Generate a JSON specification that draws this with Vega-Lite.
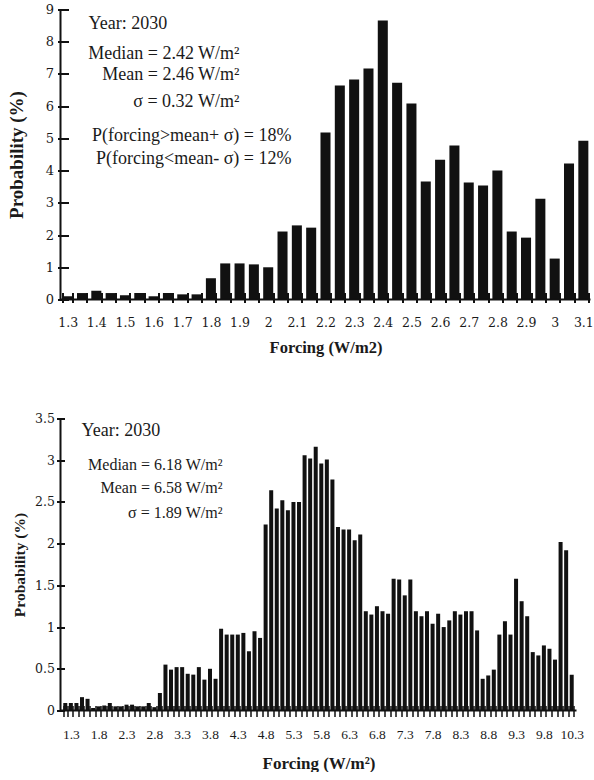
{
  "$schema": "https://vega.github.io/schema/vega-lite/v6.json",
  "padding": {"top": 3.5, "left": 6.5, "right": 0, "bottom": 0},
  "spacing": 57,
  "config": {
    "view": {"stroke": null},
    "axis": {"grid": false, "labelColor": "#1a1a1a", "titleColor": "#1a1a1a", "tickColor": "#111111", "labelFont": "Liberation Serif", "titleFont": "Liberation Serif", "titleFontWeight": "bold", "labelOverlap": false, "domain": false},
    "text": {"font": "Liberation Serif", "color": "#1a1a1a", "baseline": "alphabetic"}
  },
  "datasets": {
    "top": [
      {"forcing": 1.3, "probability": 0.10}, {"forcing": 1.35, "probability": 0.20}, {"forcing": 1.4, "probability": 0.27},
      {"forcing": 1.45, "probability": 0.20}, {"forcing": 1.5, "probability": 0.13}, {"forcing": 1.55, "probability": 0.20},
      {"forcing": 1.6, "probability": 0.10}, {"forcing": 1.65, "probability": 0.20}, {"forcing": 1.7, "probability": 0.16},
      {"forcing": 1.75, "probability": 0.16}, {"forcing": 1.8, "probability": 0.66}, {"forcing": 1.85, "probability": 1.12},
      {"forcing": 1.9, "probability": 1.12}, {"forcing": 1.95, "probability": 1.09}, {"forcing": 2, "probability": 1.00},
      {"forcing": 2.05, "probability": 2.11}, {"forcing": 2.1, "probability": 2.30}, {"forcing": 2.15, "probability": 2.23},
      {"forcing": 2.2, "probability": 5.18}, {"forcing": 2.25, "probability": 6.64}, {"forcing": 2.3, "probability": 6.83},
      {"forcing": 2.35, "probability": 7.17}, {"forcing": 2.4, "probability": 8.66}, {"forcing": 2.45, "probability": 6.73},
      {"forcing": 2.5, "probability": 6.08}, {"forcing": 2.55, "probability": 3.66}, {"forcing": 2.6, "probability": 4.34},
      {"forcing": 2.65, "probability": 4.78}, {"forcing": 2.7, "probability": 3.63}, {"forcing": 2.75, "probability": 3.54},
      {"forcing": 2.8, "probability": 4.00}, {"forcing": 2.85, "probability": 2.11}, {"forcing": 2.9, "probability": 1.92},
      {"forcing": 2.95, "probability": 3.13}, {"forcing": 3, "probability": 1.27}, {"forcing": 3.05, "probability": 4.22},
      {"forcing": 3.1, "probability": 4.93}
    ],
    "bottom": [
      {"forcing": 1.2, "probability": 0.09}, {"forcing": 1.3, "probability": 0.09}, {"forcing": 1.4, "probability": 0.09},
      {"forcing": 1.5, "probability": 0.16}, {"forcing": 1.6, "probability": 0.14}, {"forcing": 1.7, "probability": 0.03},
      {"forcing": 1.8, "probability": 0.05}, {"forcing": 1.9, "probability": 0.06}, {"forcing": 2.0, "probability": 0.09},
      {"forcing": 2.1, "probability": 0.05}, {"forcing": 2.2, "probability": 0.05}, {"forcing": 2.3, "probability": 0.07},
      {"forcing": 2.4, "probability": 0.07}, {"forcing": 2.5, "probability": 0.05}, {"forcing": 2.6, "probability": 0.05},
      {"forcing": 2.7, "probability": 0.09}, {"forcing": 2.8, "probability": 0.04}, {"forcing": 2.9, "probability": 0.21},
      {"forcing": 3.0, "probability": 0.55}, {"forcing": 3.1, "probability": 0.49}, {"forcing": 3.2, "probability": 0.52},
      {"forcing": 3.3, "probability": 0.52}, {"forcing": 3.4, "probability": 0.44}, {"forcing": 3.5, "probability": 0.43},
      {"forcing": 3.6, "probability": 0.52}, {"forcing": 3.7, "probability": 0.37}, {"forcing": 3.8, "probability": 0.50},
      {"forcing": 3.9, "probability": 0.38}, {"forcing": 4.0, "probability": 0.98}, {"forcing": 4.1, "probability": 0.91},
      {"forcing": 4.2, "probability": 0.91}, {"forcing": 4.3, "probability": 0.91}, {"forcing": 4.4, "probability": 0.93},
      {"forcing": 4.5, "probability": 0.71}, {"forcing": 4.6, "probability": 0.95}, {"forcing": 4.7, "probability": 0.87},
      {"forcing": 4.8, "probability": 2.23}, {"forcing": 4.9, "probability": 2.64}, {"forcing": 5.0, "probability": 2.42},
      {"forcing": 5.1, "probability": 2.52}, {"forcing": 5.2, "probability": 2.40}, {"forcing": 5.3, "probability": 2.50},
      {"forcing": 5.4, "probability": 2.50}, {"forcing": 5.5, "probability": 3.06}, {"forcing": 5.6, "probability": 3.02},
      {"forcing": 5.7, "probability": 3.16}, {"forcing": 5.8, "probability": 2.96}, {"forcing": 5.9, "probability": 3.01},
      {"forcing": 6.0, "probability": 2.77}, {"forcing": 6.1, "probability": 2.20}, {"forcing": 6.2, "probability": 2.17},
      {"forcing": 6.3, "probability": 2.17}, {"forcing": 6.4, "probability": 2.04}, {"forcing": 6.5, "probability": 2.11},
      {"forcing": 6.6, "probability": 1.19}, {"forcing": 6.7, "probability": 1.15}, {"forcing": 6.8, "probability": 1.25},
      {"forcing": 6.9, "probability": 1.19}, {"forcing": 7.0, "probability": 1.16}, {"forcing": 7.1, "probability": 1.58},
      {"forcing": 7.2, "probability": 1.57}, {"forcing": 7.3, "probability": 1.38}, {"forcing": 7.4, "probability": 1.57},
      {"forcing": 7.5, "probability": 1.19}, {"forcing": 7.6, "probability": 1.13}, {"forcing": 7.7, "probability": 1.19},
      {"forcing": 7.8, "probability": 1.04}, {"forcing": 7.9, "probability": 1.16}, {"forcing": 8.0, "probability": 1.00},
      {"forcing": 8.1, "probability": 1.08}, {"forcing": 8.2, "probability": 1.19}, {"forcing": 8.3, "probability": 1.15},
      {"forcing": 8.4, "probability": 1.19}, {"forcing": 8.5, "probability": 1.19}, {"forcing": 8.6, "probability": 0.96},
      {"forcing": 8.7, "probability": 0.38}, {"forcing": 8.8, "probability": 0.42}, {"forcing": 8.9, "probability": 0.49},
      {"forcing": 9.0, "probability": 0.91}, {"forcing": 9.1, "probability": 1.07}, {"forcing": 9.2, "probability": 0.91},
      {"forcing": 9.3, "probability": 1.58}, {"forcing": 9.4, "probability": 1.31}, {"forcing": 9.5, "probability": 1.13},
      {"forcing": 9.6, "probability": 0.70}, {"forcing": 9.7, "probability": 0.66}, {"forcing": 9.8, "probability": 0.78},
      {"forcing": 9.9, "probability": 0.74}, {"forcing": 10.0, "probability": 0.61}, {"forcing": 10.1, "probability": 2.02},
      {"forcing": 10.2, "probability": 1.92}, {"forcing": 10.3, "probability": 0.43}
    ]
  },
  "vconcat": [
    {
      "width": 530,
      "height": 290,
      "resolve": {"scale": {"x": "independent"}, "axis": {"y": "independent"}},
      "layer": [
        {
          "data": {"name": "top"},
          "mark": {"type": "bar", "color": "#111111"},
          "encoding": {
            "x": {
              "field": "forcing", "type": "ordinal",
              "scale": {"paddingInner": 0.3, "paddingOuter": 0.15},
              "axis": {
                "title": "Forcing (W/m2)",
                "labelExpr": "abs(datum.value*10 - round(datum.value*10)) < 0.001 ? datum.label : ''",
                "labelAngle": 0, "tickBand": "extent", "offset": -7, "tickSize": 10, "tickWidth": 2,
                "labelFont": "DejaVu Serif", "labelFontSize": 12.5, "labelPadding": 14,
                "titleFontSize": 16.5, "titlePadding": 10
              }
            },
            "y": {
              "field": "probability", "type": "quantitative",
              "scale": {"domain": [0, 9], "nice": false},
              "axis": {
                "title": "Probability (%)", "values": [0, 1, 2, 3, 4, 5, 6, 7, 8, 9], "orient": "left",
                "offset": -8, "tickSize": 11, "tickWidth": 2,
                "labelFont": "DejaVu Serif", "labelFontSize": 13, "labelPadding": 4,
                "titleFontSize": 19, "titlePadding": 19
              }
            }
          }
        },
        {
          "data": {"values": [{}]},
          "layer": [
            {
              "mark": {"type": "rule", "strokeWidth": 2, "color": "#111111"},
              "encoding": {"y": {"datum": 0, "type": "quantitative", "axis": null}}
            },
            {
              "mark": {"type": "rule", "strokeWidth": 2, "color": "#111111"},
              "encoding": {"x": {"datum": 1.275, "type": "quantitative", "scale": {"domain": [1.275, 3.1256], "nice": false, "zero": false}, "axis": null}}
            },
            {
              "mark": {"type": "text", "text": "Year: 2030", "align": "left", "fontSize": 18},
              "encoding": {
                "x": {"datum": 1.3728, "type": "quantitative", "scale": {"domain": [1.275, 3.1256], "nice": false, "zero": false}, "axis": null},
                "y": {"datum": 8.40, "type": "quantitative", "axis": null}
              }
            },
            {
              "mark": {"type": "text", "text": "Median = 2.42 W/m²", "align": "right", "fontSize": 18},
              "encoding": {
                "x": {"datum": 1.9, "type": "quantitative", "scale": {"domain": [1.275, 3.1256], "nice": false, "zero": false}, "axis": null},
                "y": {"datum": 7.47, "type": "quantitative", "axis": null}
              }
            },
            {
              "mark": {"type": "text", "text": "Mean = 2.46 W/m²", "align": "right", "fontSize": 18},
              "encoding": {
                "x": {"datum": 1.9, "type": "quantitative", "scale": {"domain": [1.275, 3.1256], "nice": false, "zero": false}, "axis": null},
                "y": {"datum": 6.80, "type": "quantitative", "axis": null}
              }
            },
            {
              "mark": {"type": "text", "text": "σ = 0.32 W/m²", "align": "right", "fontSize": 18},
              "encoding": {
                "x": {"datum": 1.9, "type": "quantitative", "scale": {"domain": [1.275, 3.1256], "nice": false, "zero": false}, "axis": null},
                "y": {"datum": 5.98, "type": "quantitative", "axis": null}
              }
            },
            {
              "mark": {"type": "text", "text": "P(forcing>mean+ σ) = 18%", "align": "right", "fontSize": 18},
              "encoding": {
                "x": {"datum": 2.0816, "type": "quantitative", "scale": {"domain": [1.275, 3.1256], "nice": false, "zero": false}, "axis": null},
                "y": {"datum": 4.91, "type": "quantitative", "axis": null}
              }
            },
            {
              "mark": {"type": "text", "text": "P(forcing<mean- σ) = 12%", "align": "right", "fontSize": 18},
              "encoding": {
                "x": {"datum": 2.0816, "type": "quantitative", "scale": {"domain": [1.275, 3.1256], "nice": false, "zero": false}, "axis": null},
                "y": {"datum": 4.21, "type": "quantitative", "axis": null}
              }
            }
          ]
        }
      ]
    },
    {
      "width": 516,
      "height": 292,
      "resolve": {"scale": {"x": "independent"}, "axis": {"y": "independent"}},
      "layer": [
        {
          "data": {"name": "bottom"},
          "mark": {"type": "bar", "color": "#111111"},
          "encoding": {
            "x": {
              "field": "forcing", "type": "ordinal",
              "scale": {"paddingInner": 0.28, "paddingOuter": 0.5},
              "axis": {
                "title": "Forcing (W/m²)",
                "labelExpr": "abs((datum.value-1.3)*2 - round((datum.value-1.3)*2)) < 0.001 ? datum.label : ''",
                "labelAngle": 0, "tickBand": "extent", "offset": -5, "tickSize": 11, "tickWidth": 1.5,
                "labelFontSize": 13.5, "labelPadding": 10.5,
                "titleFontSize": 17, "titlePadding": 15
              }
            },
            "y": {
              "field": "probability", "type": "quantitative",
              "scale": {"domain": [0, 3.5], "nice": false},
              "axis": {
                "title": "Probability (%)", "values": [0, 0.5, 1, 1.5, 2, 2.5, 3, 3.5], "orient": "left", "format": "~g",
                "offset": -4, "tickSize": 8, "tickWidth": 2,
                "labelFont": "DejaVu Serif", "labelFontSize": 12.5, "labelPadding": 2,
                "titleFontSize": 15.5, "titlePadding": 7
              }
            }
          }
        },
        {
          "data": {"values": [{}]},
          "layer": [
            {
              "mark": {"type": "rule", "strokeWidth": 2, "color": "#111111"},
              "encoding": {"y": {"datum": 0, "type": "quantitative", "axis": null}}
            },
            {
              "mark": {"type": "rule", "strokeWidth": 2, "color": "#111111"},
              "encoding": {"x": {"datum": 1.1141, "type": "quantitative", "scale": {"domain": [1.1141, 10.3864], "nice": false, "zero": false}, "axis": null}}
            },
            {
              "mark": {"type": "text", "text": "Year: 2030", "align": "left", "fontSize": 18},
              "encoding": {
                "x": {"datum": 1.4915, "type": "quantitative", "scale": {"domain": [1.1141, 10.3864], "nice": false, "zero": false}, "axis": null},
                "y": {"datum": 3.29, "type": "quantitative", "axis": null}
              }
            },
            {
              "mark": {"type": "text", "text": "Median = 6.18 W/m²", "align": "right", "fontSize": 16},
              "encoding": {
                "x": {"datum": 4.025, "type": "quantitative", "scale": {"domain": [1.1141, 10.3864], "nice": false, "zero": false}, "axis": null},
                "y": {"datum": 2.88, "type": "quantitative", "axis": null}
              }
            },
            {
              "mark": {"type": "text", "text": "Mean = 6.58 W/m²", "align": "right", "fontSize": 16},
              "encoding": {
                "x": {"datum": 4.025, "type": "quantitative", "scale": {"domain": [1.1141, 10.3864], "nice": false, "zero": false}, "axis": null},
                "y": {"datum": 2.61, "type": "quantitative", "axis": null}
              }
            },
            {
              "mark": {"type": "text", "text": "σ = 1.89 W/m²", "align": "right", "fontSize": 16},
              "encoding": {
                "x": {"datum": 4.025, "type": "quantitative", "scale": {"domain": [1.1141, 10.3864], "nice": false, "zero": false}, "axis": null},
                "y": {"datum": 2.31, "type": "quantitative", "axis": null}
              }
            }
          ]
        }
      ]
    }
  ]
}
